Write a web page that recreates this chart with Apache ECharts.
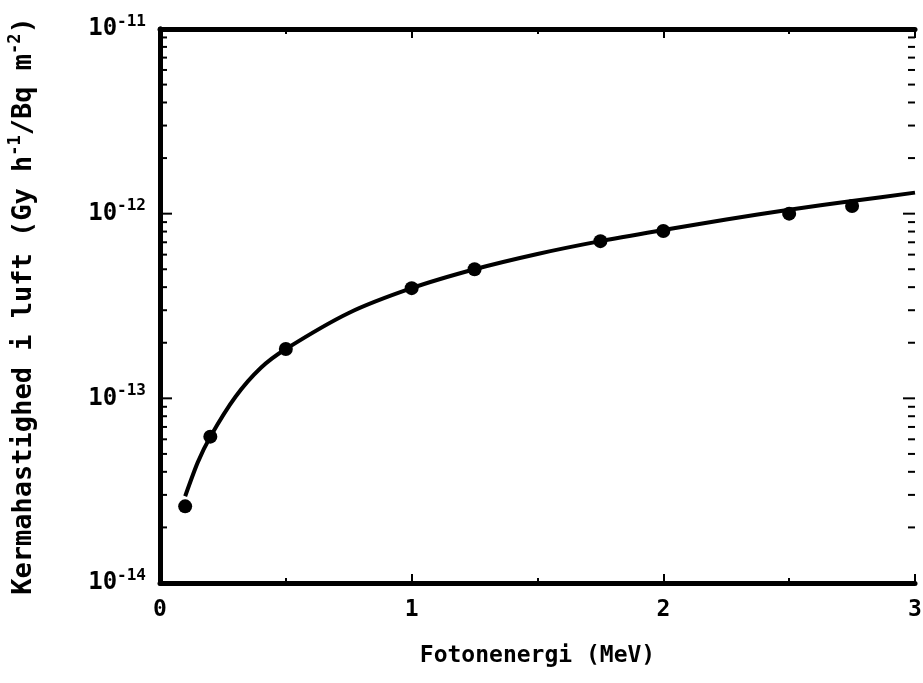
<!DOCTYPE html>
<html>
<head>
<meta charset="utf-8">
<script src="https://cdn.jsdelivr.net/npm/echarts@6/dist/echarts.min.js"></script>
<style>
  html, body { margin: 0; padding: 0; background: #fff; }
  #chart { width: 923px; height: 683px; }
</style>
</head>
<body>
<div id="chart"></div>
<script>
// Measured points: photon energy (MeV) and air kerma rate (Gy h^-1 / Bq m^-2)
const pointEnergy = [0.1, 0.2, 0.5, 1.0, 1.25, 1.75, 2.0, 2.5, 2.75];
const pointKerma  = [2.6e-14, 6.2e-14, 1.85e-13, 3.95e-13, 5.0e-13, 7.1e-13, 8.05e-13, 1.0e-12, 1.1e-12];

// Fitted curve
const curveEnergy = [0.1, 0.15, 0.2, 0.3, 0.4, 0.5, 0.75, 1.0, 1.25, 1.5, 1.75, 2.0, 2.25, 2.5, 2.75, 3.0];
const curveKerma  = [2.95e-14, 4.5e-14, 6.2e-14, 1.02e-13, 1.46e-13, 1.85e-13, 2.9e-13, 3.95e-13, 5.0e-13, 6.05e-13, 7.1e-13, 8.15e-13, 9.3e-13, 1.05e-12, 1.17e-12, 1.3e-12];

// Axis ranges and tick labels
const xTicks = [0, 1, 2, 3];
const yDecades = [-14, -13, -12, -11];
const yMinorMultipliers = [2, 3, 4, 5, 6, 7, 8, 9];

const FONT = 'DejaVu Sans Mono';
const INK = '#000';

const chart = echarts.init(document.getElementById('chart'), null, { renderer: 'canvas' });

const yMin = Math.pow(10, yDecades[0]);
const yMax = Math.pow(10, yDecades[yDecades.length - 1]);

// Log ticks for the left and right frame edges: decades (major) and 2..9 (minor)
const yTickList = [];
yDecades.forEach(d => yTickList.push([Math.pow(10, d), 1]));
for (let i = 0; i < yDecades.length - 1; i++) {
  yMinorMultipliers.forEach(m => yTickList.push([m * Math.pow(10, yDecades[i]), 0]));
}

const supLabel = v => {
  const e = Math.round(Math.log10(v));
  return '{b|10}{s|' + '-' + Math.abs(e) + '}';
};

const labelRich = {
  b: { fontFamily: FONT, fontWeight: 'bold', fontSize: 24, color: INK },
  s: { fontFamily: FONT, fontWeight: 'bold', fontSize: 16, color: INK, verticalAlign: 'bottom', padding: [0, 0, 15, 0] }
};

const frameAxisLine = { show: true, lineStyle: { color: INK, width: 5 } };

chart.setOption({
  backgroundColor: '#fff',
  animation: false,
  grid: { left: 160, right: 8, top: 29, bottom: 100, containLabel: false, outerBoundsMode: 'none' },
  xAxis: [{
    type: 'value',
    min: xTicks[0],
    max: xTicks[xTicks.length - 1],
    interval: 1,
    axisLine: frameAxisLine,
    axisTick: { show: true, inside: true, length: 9, lineStyle: { color: INK, width: 2 } },
    minorTick: { show: true, splitNumber: 2, length: 5, lineStyle: { color: INK, width: 2 } },
    splitLine: { show: false },
    axisLabel: { fontFamily: FONT, fontWeight: 'bold', fontSize: 23, color: INK, margin: 16 },
    name: 'Fotonenergi (MeV)',
    nameLocation: 'middle',
    nameGap: 62,
    nameTextStyle: { fontFamily: FONT, fontWeight: 'bold', fontSize: 23, color: INK }
  }, {
    type: 'value',
    position: 'top',
    min: xTicks[0],
    max: xTicks[xTicks.length - 1],
    interval: 1,
    axisLine: frameAxisLine,
    axisTick: { show: true, inside: true, length: 9, lineStyle: { color: INK, width: 2 } },
    minorTick: { show: true, splitNumber: 2, length: 5, lineStyle: { color: INK, width: 2 } },
    splitLine: { show: false },
    axisLabel: { show: false }
  }],
  yAxis: [{
    type: 'log',
    logBase: 10,
    min: yMin,
    max: yMax,
    axisLine: frameAxisLine,
    axisTick: { show: false },
    splitLine: { show: false },
    axisLabel: { formatter: supLabel, rich: labelRich, margin: 14 },
    name: '{t|Kermahastighed i luft (Gy h}{s|-1}{t|/Bq m}{s|-2}{t|)}',
    nameLocation: 'middle',
    nameRotate: 90,
    nameGap: 120,
    nameTextStyle: {
      rich: {
        t: { fontFamily: FONT, fontWeight: 'bold', fontSize: 27, color: INK },
        s: { fontFamily: FONT, fontWeight: 'bold', fontSize: 17, color: INK, verticalAlign: 'bottom', padding: [0, 0, 16, 0] }
      }
    }
  }, {
    type: 'log',
    logBase: 10,
    position: 'right',
    min: yMin,
    max: yMax,
    axisLine: frameAxisLine,
    axisTick: { show: false },
    splitLine: { show: false },
    axisLabel: { show: false }
  }],
  series: [{
    // log ticks drawn inward from both vertical frame edges
    type: 'custom',
    silent: true,
    xAxisIndex: 0,
    yAxisIndex: 0,
    clip: false,
    data: yTickList.map(t => [0, t[0], t[1]]),
    renderItem: (params, api) => {
      const v = api.value(1);
      const len = api.value(2) ? 12 : 7;
      const pl = api.coord([xTicks[0], v]);
      const pr = api.coord([xTicks[xTicks.length - 1], v]);
      return {
        type: 'group',
        children: [
          { type: 'line', shape: { x1: pl[0], y1: pl[1], x2: pl[0] + len, y2: pl[1] }, style: { stroke: INK, lineWidth: 2 } },
          { type: 'line', shape: { x1: pr[0], y1: pr[1], x2: pr[0] - len, y2: pr[1] }, style: { stroke: INK, lineWidth: 2 } }
        ]
      };
    },
    z: 1
  }, {
    name: 'Tilpasning',
    type: 'line',
    data: curveEnergy.map((e, i) => [e, curveKerma[i]]),
    smooth: 0.25,
    showSymbol: false,
    lineStyle: { color: INK, width: 4 },
    z: 2
  }, {
    name: 'Beregnet',
    type: 'scatter',
    data: pointEnergy.map((e, i) => [e, pointKerma[i]]),
    symbol: 'circle',
    symbolSize: 14,
    itemStyle: { color: INK, opacity: 1 },
    z: 3
  }]
});
</script>
</body>
</html>
